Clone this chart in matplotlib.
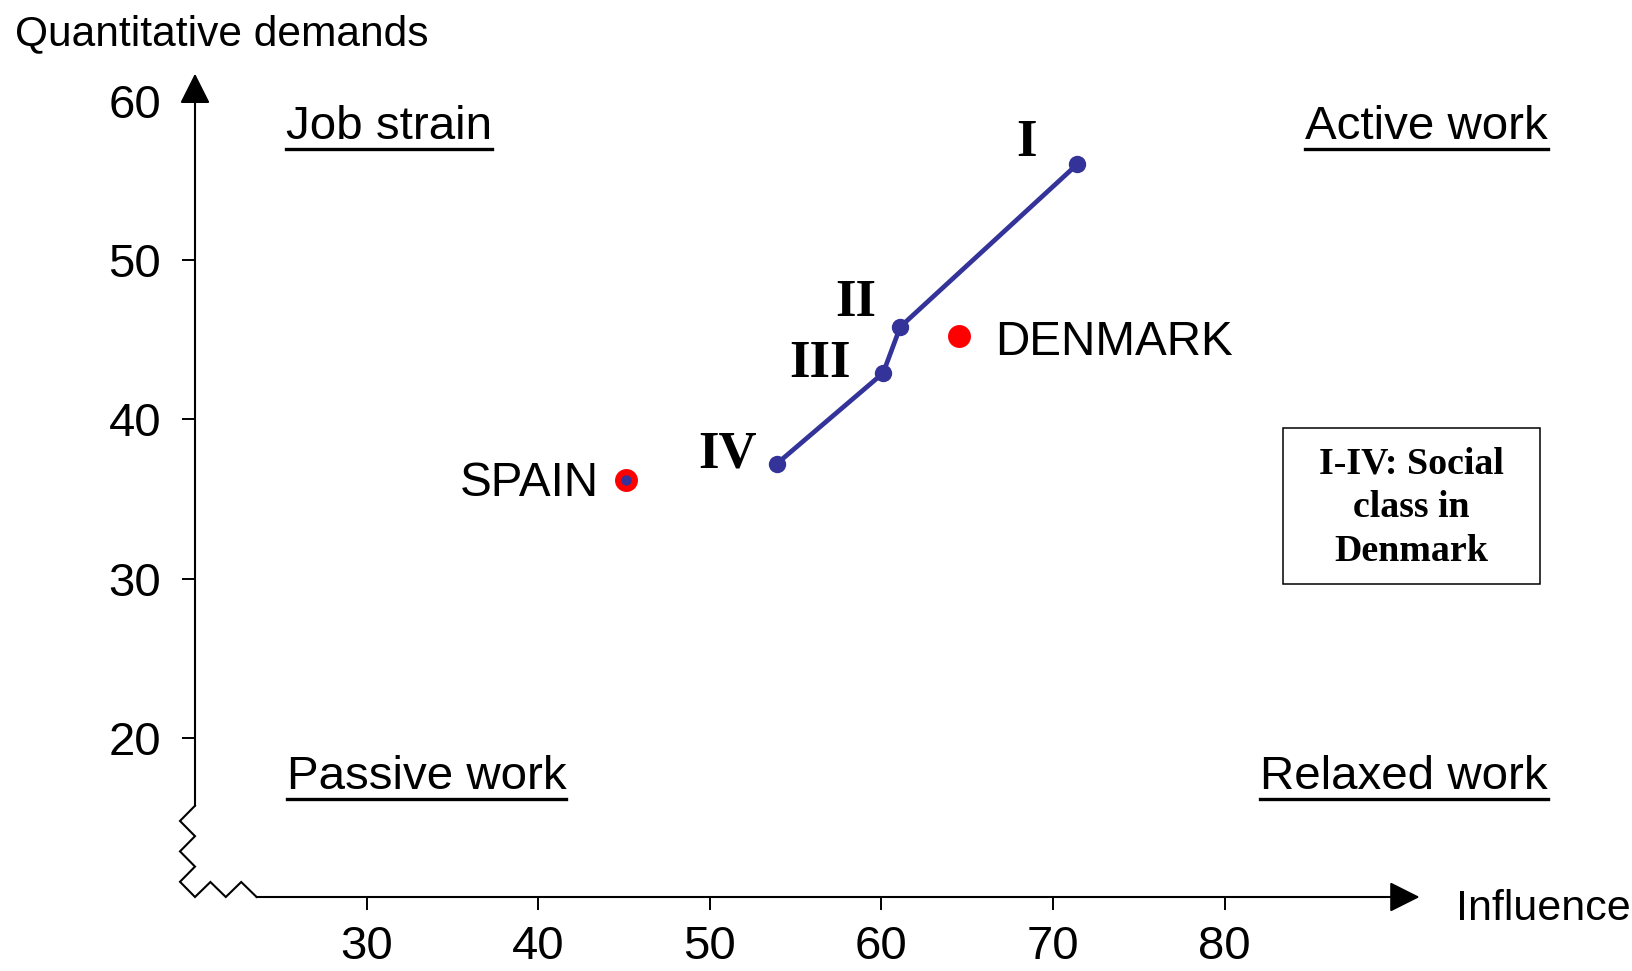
import numpy as np
import matplotlib
matplotlib.use("Agg")
import matplotlib.pyplot as plt
from matplotlib.patches import Rectangle
from matplotlib.lines import Line2D

# ---- data ----
class_labels = ["I", "II", "III", "IV"]
class_influence = [71.4, 61.1, 60.1, 53.9]
class_demands = [56.0, 45.8, 42.9, 37.2]

country_labels = ["DENMARK", "SPAIN"]
country_influence = [64.5, 45.1]
country_demands = [45.2, 36.2]

x_ticks = [30, 40, 50, 60, 70, 80]
y_ticks = [20, 30, 40, 50, 60]

quadrants = ["Job strain", "Active work", "Passive work", "Relaxed work"]

SANS = ["Liberation Sans", "DejaVu Sans"]
SERIF = ["Liberation Serif", "DejaVu Serif"]
BLUE = "#333399"
RED = "#ff0000"

W, H, DPI = 1632, 971, 100
fig = plt.figure(figsize=(W / DPI, H / DPI), dpi=DPI)
plt.rcParams["font.family"] = SANS

# axes origin at (20, 10) in data units
xmin, xmax, ymin, ymax = 20, 100, 10, 65
ppx, ppy = 17.16, 15.925  # pixels per data unit
ax = fig.add_axes([195 / W, 1 - 897 / H, (xmax - xmin) * ppx / W, (ymax - ymin) * ppy / H])
ax.set_xlim(xmin, xmax)
ax.set_ylim(ymin, ymax)
for s in ax.spines.values():
    s.set_visible(False)
ax.set_xticks(x_ticks)
ax.set_yticks(y_ticks)
ax.tick_params(direction="out", length=9.4, width=1.4, labelsize=34, colors="black")
ax.tick_params(axis="y", pad=15)
ax.tick_params(axis="x", pad=11)
for lab in ax.get_xticklabels() + ax.get_yticklabels():
    lab.set_family(SANS)

lw_ax = 1.5
# axis break zigzags
ybreak_top = 15.73
xbreak_end = 23.59
amp_x = 15 / ppx
amp_y = 15 / ppy
ny = np.linspace(ybreak_top, ymin, 7)
zy_x = [xmin if i % 2 == 0 else xmin - amp_x for i in range(7)]
nx = np.linspace(xmin, xbreak_end, 5)
zx_y = [ymin if i % 2 == 0 else ymin + amp_y for i in range(5)]
ax.plot(list(zy_x) + list(nx[1:]), list(ny) + list(zx_y[1:]), color="black", lw=lw_ax,
        clip_on=False, solid_joinstyle="miter")

# axis arrows
arrow_kw = dict(arrowstyle="-|>,head_length=1.87,head_width=0.94", mutation_scale=10,
                color="black", lw=lw_ax, shrinkA=0, shrinkB=0)
ax.annotate("", xy=(xmin, 61.7), xytext=(xmin, ybreak_top), arrowprops=arrow_kw,
            annotation_clip=False)
ax.annotate("", xy=(91.36, ymin), xytext=(xbreak_end, ymin), arrowprops=arrow_kw,
            annotation_clip=False)

# class line
ax.plot(class_influence, class_demands, color=BLUE, lw=3.4, marker="o", ms=11.5,
        mec=BLUE, mfc=BLUE, clip_on=False, zorder=3)
label_offsets = {"I": (-51, 21), "II": (-45, 24), "III": (-63, 9), "IV": (-49, 9)}
for lab, x, y in zip(class_labels, class_influence, class_demands):
    dx, dy = label_offsets[lab]
    ax.annotate(lab, (x, y), xytext=(dx, dy), textcoords="offset pixels", ha="center",
                va="center", fontsize=38, fontweight="bold", family=SERIF)

# countries
ax.plot(country_influence, country_demands, linestyle="none", marker="o", ms=15.5,
        mfc=RED, mec=RED, zorder=4)
ax.plot(country_influence[1:], country_demands[1:], linestyle="none", marker="o", ms=6.5,
        mfc=BLUE, mec=BLUE, zorder=5)
ax.annotate(country_labels[0], (country_influence[0], country_demands[0]), xytext=(37, -19),
            textcoords="offset pixels", ha="left", va="baseline", fontsize=34.3)
ax.annotate(country_labels[1], (country_influence[1], country_demands[1]), xytext=(-27, -16),
            textcoords="offset pixels", ha="right", va="baseline", fontsize=34.3)

# quadrant labels
q_pos = [(25.28, 57.61, "left"), (98.82, 57.61, "right"),
         (25.34, 16.80, "left"), (98.82, 16.80, "right")]
qtexts = []
for q, (x, y, ha) in zip(quadrants, q_pos):
    qtexts.append(ax.text(x, y, q, ha=ha, va="baseline", fontsize=34.2, clip_on=False))

# legend box
x0 = 30 + (1283 - 367) / ppx
x1 = 30 + (1540 - 367) / ppx
ytop = 60 - (427 - 100) / ppy
ybot = 60 - (583 - 100) / ppy
ax.add_patch(Rectangle((x0, ybot), x1 - x0, ytop - ybot, fill=False, ec="black", lw=1.1))
ax.text((x0 + x1) / 2, 60 - (507 - 100) / ppy, "I-IV: Social\nclass in\nDenmark",
        ha="center", va="center", fontsize=27.3, fontweight="bold", family=SERIF,
        linespacing=1.34, multialignment="center")

# axis titles
fig.text(15 / W, 1 - 45 / H, "Quantitative demands", ha="left", va="baseline", fontsize=30.6)
fig.text(1456 / W, 1 - 920 / H, "Influence", ha="left", va="baseline", fontsize=31)

# underlines
fig.canvas.draw()
r = fig.canvas.get_renderer()
for t in qtexts:
    bb = t.get_window_extent(r)
    xd, yd = ax.transData.transform(t.get_position())
    y_ul = yd - 10
    fig.add_artist(Line2D([bb.x0 / W, bb.x1 / W], [y_ul / H, y_ul / H],
                          transform=fig.transFigure, color="black", lw=2.4))

fig.savefig("out.png", dpi=DPI)
